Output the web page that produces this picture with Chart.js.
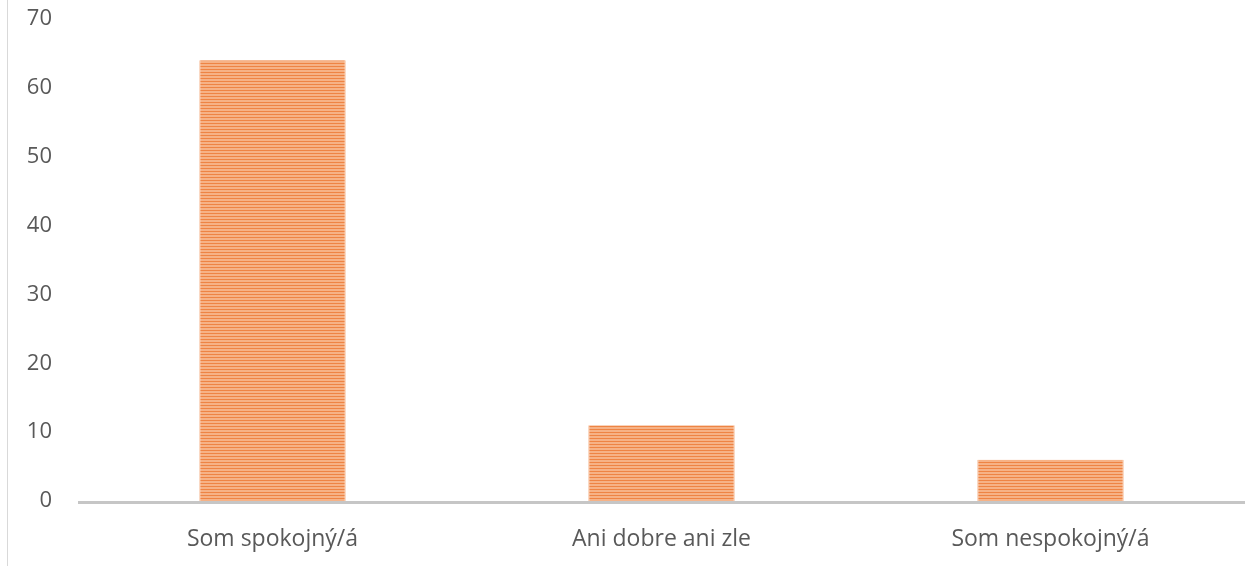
<!DOCTYPE html>
<html>
<head>
<meta charset="utf-8">
<script src="https://cdn.jsdelivr.net/npm/chart.js@4/dist/chart.umd.min.js"></script>
<style>
  html, body { margin: 0; padding: 0; background: #ffffff; overflow: hidden; }
  #wrap { position: relative; width: 1245px; height: 566px; }
  #vline { position: absolute; left: 7px; top: 0; width: 1px; height: 566px; background: #d9d9d9; }
  #c { position: absolute; left: 0; top: 0; width: 1245px; height: 566px; }
</style>
</head>
<body>
<div id="wrap">
  <div id="vline"></div>
  <canvas id="c" width="1245" height="566"></canvas>
</div>
<script>
const categories = ["Som spokojný/á", "Ani dobre ani zle", "Som nespokojný/á"];
const values = [64, 11, 6];
const yTicks = [0, 10, 20, 30, 40, 50, 60, 70];

function stripePattern() {
  const p = document.createElement('canvas');
  p.width = 4; p.height = 3;
  const g = p.getContext('2d');
  g.fillStyle = '#f6b286';
  g.fillRect(0, 0, 4, 3);
  g.fillStyle = '#ee8444';
  g.fillRect(0, 0, 4, 1);
  return g.createPattern(p, 'repeat');
}

const FONT = { family: '"Open Sans", "Noto Sans", sans-serif', size: 22 };
const XFONT = { family: '"Open Sans", "Noto Sans", sans-serif', size: 23 };

const baseLine = {
  id: 'baseLine',
  afterDatasetsDraw(chart) {
    const c = chart.ctx, y = chart.scales.y.getPixelForValue(0);
    c.save();
    c.strokeStyle = '#c6c6c6';
    c.lineWidth = 3;
    c.beginPath();
    c.moveTo(chart.chartArea.left, y + 1.5);
    c.lineTo(c.canvas.width, y + 1.5);
    c.stroke();
    c.restore();
  }
};

const ctx = document.getElementById('c').getContext('2d');
new Chart(ctx, {
  type: 'bar',
  data: {
    labels: categories,
    datasets: [{
      data: values,
      backgroundColor: stripePattern(),
      borderColor: '#f3a06b',
      borderWidth: { left: 1, right: 1, top: 0, bottom: 0 },
      borderSkipped: false,
      barPercentage: 0.376,
      categoryPercentage: 1.0
    }]
  },
  plugins: [baseLine],
  options: {
    responsive: false,
    animation: false,
    devicePixelRatio: 1,
    layout: { padding: { top: 19, left: 0, right: 0, bottom: 0 } },
    plugins: { legend: { display: false }, tooltip: { enabled: false } },
    scales: {
      x: {
        grid: { display: false, drawTicks: false },
        border: { display: false },
        ticks: { color: '#595959', font: XFONT, padding: 25 },
        afterFit: (s) => { s.height = 65; s.paddingLeft = 0; s.paddingRight = 0; }
      },
      y: {
        min: 0, max: 70,
        afterBuildTicks: (s) => { s.ticks = yTicks.map(v => ({ value: v })); },
        grid: { display: false, drawTicks: false },
        border: { display: false },
        ticks: { color: '#595959', font: FONT, padding: 26 },
        afterFit: (s) => { s.width = 78; s.paddingTop = 0; s.paddingBottom = 0; }
      }
    }
  }
});
</script>
</body>
</html>
